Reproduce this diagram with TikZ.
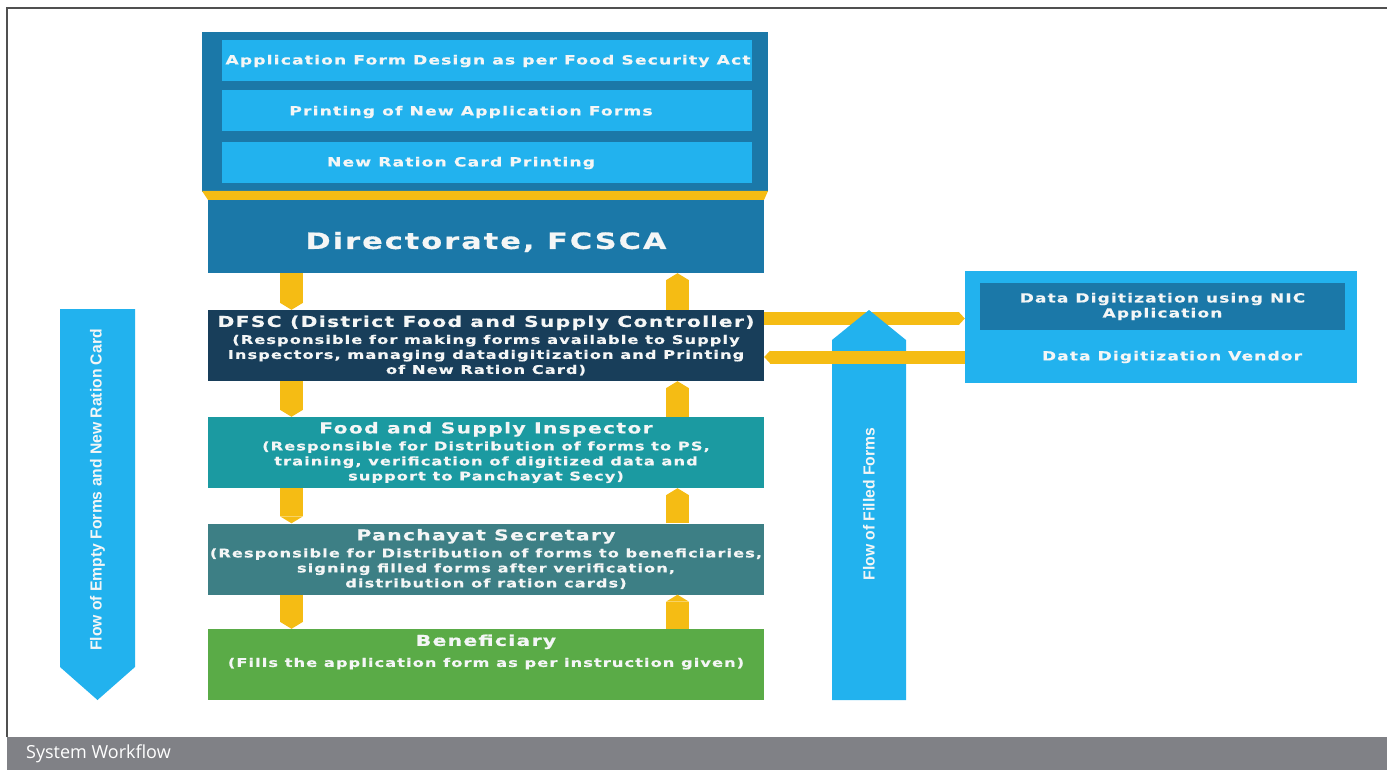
\documentclass[tikz,border=0pt]{standalone}
\usepackage{fontspec}
\setmainfont{DejaVu Sans}
\newfontfamily\boxfont[FakeStretch=1.35,LetterSpace=9,BoldFeatures={FakeBold=0.5}]{DejaVu Sans}
\newfontfamily\flowfont[FakeStretch=0.98]{Liberation Sans}
\newfontfamily\capfont{Open Sans}
\usetikzlibrary{arrows.meta,calc}
\definecolor{topblue}{HTML}{1B78A8}
\definecolor{barblue}{HTML}{22B2EE}
\definecolor{yel}{HTML}{F5BC14}
\definecolor{dfscc}{HTML}{183E5A}
\definecolor{fsic}{HTML}{1B9AA1}
\definecolor{psc}{HTML}{3D7F85}
\definecolor{benc}{HTML}{5AAB47}
\definecolor{framec}{HTML}{505050}
\definecolor{bandc}{HTML}{808186}
\definecolor{txt}{HTML}{F4F6F6}
\newcommand{\subsize}{\fontsize{12}{15}\selectfont}
\newcommand{\ttl}[1]{{\fontsize{15}{15}\selectfont #1}}
\tikzset{
  stage/.style={rectangle, inner sep=0pt, minimum width=556pt, minimum height=71pt, text=txt, align=center, font=\boxfont\bfseries\subsize},
  bar/.style={rectangle, inner sep=0pt, fill=barblue, minimum width=530pt, minimum height=41pt},
  bartext/.style={inner sep=0pt, text=txt, font=\boxfont\bfseries\fontsize{12.7}{14}\selectfont},
  ydown/.style={draw=yel, line width=23pt, -{Triangle[line width=0pt, width=23pt, length=7pt]}},
  yside/.style={draw=yel, line width=13pt, -{Triangle[line width=0pt, width=13pt, length=6pt]}},
  flowtext/.style={inner sep=0pt, text=txt, rotate=90, font=\flowfont\bfseries\fontsize{16}{18}\selectfont},
}
\begin{document}
\begin{tikzpicture}[x=1pt,y=-1pt]
\useasboundingbox (0,0) rectangle (1387,770);
% frame and caption band
\fill[bandc] (7,737) rectangle (1387,770);
\draw[framec, line width=2.5pt] (7,737) -- (7,8) -- (1387,8);
\node[anchor=west, inner sep=0pt, text=white, font=\capfont\fontsize{18}{20}\selectfont] (cap) at (26,754) {System Workflow};
% top block
\node[rectangle, fill=topblue, minimum width=566pt, minimum height=160pt, inner sep=0pt] (top) at (485,112) {};
\node[bar] (b1) at (487,60.5) {};
\node[bar] (b2) at (487,111) {};
\node[bar] (b3) at (487,162.5) {};
\node[bartext] (t1) at (488,61) {Application Form Design as per Food Security Act};
\node[bartext] (t2) at (471,112) {Printing of New Application Forms};
\node[bartext] (t3) at (461,163) {New Ration Card Printing};
\fill[yel] (202,191) -- (768,191) -- (764,200) -- (208,200) -- cycle;
\node[stage, fill=topblue, minimum height=73pt] (dir) at (486,236.5) {};
\node[inner sep=0pt, text=txt, font=\boxfont\bfseries\fontsize{22.5}{26}\selectfont] (dirtext) at (486,242) {Directorate, FCSCA};
% stages
\node[stage, fill=dfscc] (dfsc) at (486,345.5) {\ttl{DFSC (District Food and Supply Controller)}\\[2pt]
 (Responsible for making forms available to Supply\\
 Inspectors, managing datadigitization and Printing\\
 of New Ration Card)};
\node[stage, fill=fsic] (fsi) at (486,452.5) {\ttl{Food and Supply Inspector}\\[2pt]
 (Responsible for Distribution of forms to PS,\\
 training, verification of digitized data and\\
 support to Panchayat Secy)};
\node[stage, fill=psc] (ps) at (486,559) {\ttl{Panchayat Secretary}\\[2pt]
 (Responsible for Distribution of forms to beneficiaries,\\
 signing filled forms after verification,\\
 distribution of ration cards)};
\node[stage, fill=benc] (ben) at (486,664.5) {};
\node[inner sep=0pt, text=txt, align=center, font=\boxfont\bfseries\subsize] (bentext) at (486,652) {\ttl{Beneficiary}\\[6pt]
 (Fills the application form as per instruction given)};
% right block
\node[rectangle, fill=barblue, minimum width=392pt, minimum height=112pt, inner sep=0pt] (rbox) at (1161,327) {};
\node[rectangle, fill=topblue, minimum width=365pt, minimum height=47pt, inner sep=0pt, text=txt, align=center, font=\boxfont\bfseries\fontsize{12.6}{15}\selectfont] (nic) at (1162.5,306.5) {Data Digitization using NIC\\Application};
\node[inner sep=0pt, text=txt, font=\boxfont\bfseries\fontsize{12.6}{15}\selectfont] (vendor) at (1172,357) {Data Digitization Vendor};
% vertical connector lines
\coordinate (L) at (291.5,0);
\coordinate (R) at (677.5,0);
\coordinate (H1) at (0,318.5);
\coordinate (H2) at (0,357);
\draw[ydown] (dir.south -| L) -- (dfsc.north -| L);
\draw[ydown] (dfsc.south -| L) -- (fsi.north -| L);
\draw[ydown] (fsi.south -| L) -- (ps.north -| L);
\draw[ydown] (ps.south -| L) -- (ben.north -| L);
\draw[ydown] (dfsc.north -| R) -- (dir.south -| R);
\draw[ydown] (fsi.north -| R) -- (dfsc.south -| R);
\draw[ydown] (ps.north -| R) -- (fsi.south -| R);
\draw[ydown] (ben.north -| R) -- (ps.south -| R);
% horizontal connectors and flow arrows
\draw[yside] (dfsc.east |- H1) -- (rbox.west |- H1);
\fill[barblue] (60,309) -- (135,309) -- (135,667) -- (97.5,700) -- (60,667) -- cycle;
\node[flowtext] (fl) at (97.5,490) {Flow of Empty Forms and New Ration Card};
\fill[barblue] (832,700) -- (906,700) -- (906,340) -- (869,310) -- (832,340) -- cycle;
\node[flowtext] (fr) at (869,504) {Flow of Filled Forms};
\draw[yside] (rbox.west |- H2) -- (dfsc.east |- H2);
\end{tikzpicture}
\end{document}
